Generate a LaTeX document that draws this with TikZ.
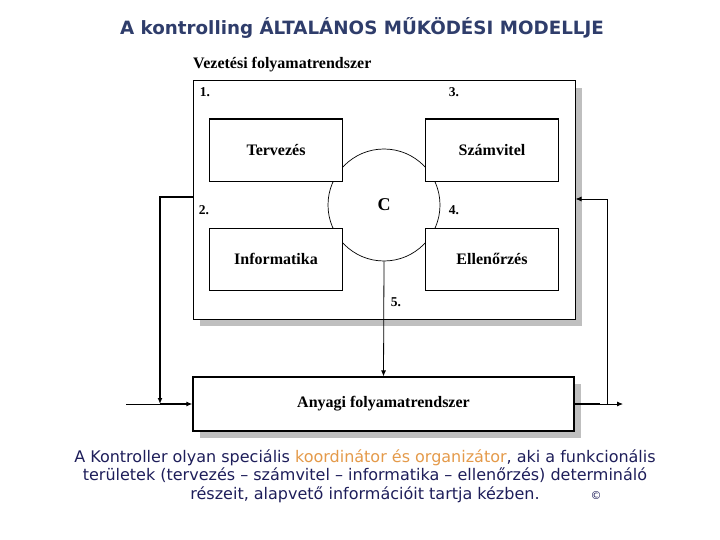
\documentclass[tikz,border=0pt]{standalone}
\usepackage{fontspec}
\usepackage{xcolor}
\setmainfont{Liberation Serif}
\newfontfamily\sansfont{DejaVu Sans}
\usetikzlibrary{arrows.meta,shadows}
\definecolor{titleblue}{HTML}{2F3D6B}
\definecolor{textblue}{HTML}{1E1E5A}
\definecolor{orangetext}{HTML}{E49A4A}

\begin{document}
\begin{tikzpicture}[x=1pt,y=-1pt,
	box/.style={draw, line width=0.8pt, fill=white, minimum width=133pt, minimum height=62pt, inner sep=0pt, font=\bfseries\fontsize{16}{18}\selectfont},
	bigbox/.style={draw, line width=1pt, fill=white, inner sep=0pt, drop shadow={shadow xshift=7pt, shadow yshift=-7pt, opacity=1, fill=black!25}},
	num/.style={font=\bfseries\fontsize{13.5}{15}\selectfont, inner sep=0pt},
	arr/.style={-{Latex[length=6pt,width=5pt]}}]
					\useasboundingbox (0,0) rectangle (720,540);
					
					% Title
					\node[font=\sansfont\bfseries\fontsize{18.3}{20}\selectfont, text=titleblue] (title) at (362,28) {A kontrolling ÁLTALÁNOS MŰKÖDÉSI MODELLJE};
					
					% Vezetesi folyamatrendszer
					\node[anchor=west, inner sep=0pt, font=\bfseries\fontsize{16}{18}\selectfont] (vezlabel) at (193,65) {Vezetési folyamatrendszer};
					\node[bigbox, minimum width=382pt, minimum height=238pt] (vezetes) at (384,200) {};
					\node[num] (n1) at (205,92) {1.};
					\node[num] (n3) at (454,92) {3.};
					\node[num] (n2) at (204,210) {2.};
					\node[num] (n4) at (454,210) {4.};
					\node[num] (n5) at (396,302) {5.};
					
					% Controller circle
					\node[draw, circle, line width=0.7pt, minimum size=112pt, inner sep=0pt, font=\bfseries\fontsize{18}{20}\selectfont] (c) at (384,205) {C};
					
					% Functional areas
					\node[box] (tervezes) at (276,150) {Tervezés};
					\node[box] (szamvitel) at (492,150) {Számvitel};
					\node[box] (informatika) at (276,259) {Informatika};
					\node[box] (ellenorzes) at (492,259) {Ellenőrzés};
					\draw[line width=2pt] (tervezes.north west) -- (tervezes.north east);
					\draw[line width=2pt] (szamvitel.north west) -- (szamvitel.north east);
					
					% Anyagi folyamatrendszer
					\node[bigbox, line width=1.2pt, minimum width=381pt, minimum height=54pt, font=\bfseries\fontsize{16}{18}\selectfont] (anyagi) at (383.5,404) {Anyagi folyamatrendszer};
					
					% Connectors
					\coordinate (input) at (126,404);
					\coordinate (output) at (623,404);
					\coordinate (lcorner) at (160,197);
					\coordinate (rcorner) at (607,199);
					\draw[arr, line width=0.8pt] (c.south) -- (anyagi.north);
					\draw[arr, line width=1.4pt] (vezetes.west |- lcorner) -- (lcorner) -- (lcorner |- anyagi.west);
					\draw[line width=0.8pt] (input) -- (lcorner |- anyagi.west);
					\draw[arr, line width=1.4pt] (lcorner |- anyagi.west) -- (anyagi.west);
					\draw[line width=1.4pt] (anyagi.east) -- (600,404);
					\draw[arr, line width=0.8pt] (anyagi.east) -- (output);
					\draw[arr, line width=0.8pt] (anyagi.east -| rcorner) -- (rcorner) -- (rcorner -| vezetes.east);
					
					% Caption
					\node[align=center, text=textblue, font=\sansfont\fontsize{16}{18.5}\selectfont] (caption) at (365,476) {A Kontroller olyan speciális \textcolor{orangetext}{koordinátor és organizátor}, aki a funkcionális\\területek (tervezés – számvitel – informatika – ellenőrzés) determináló\\részeit, alapvető információit tartja kézben.};
					\node[font=\sansfont\fontsize{11}{12}\selectfont, text=textblue] (copy) at (596,496) {©};
				\end{tikzpicture}
\end{document}
